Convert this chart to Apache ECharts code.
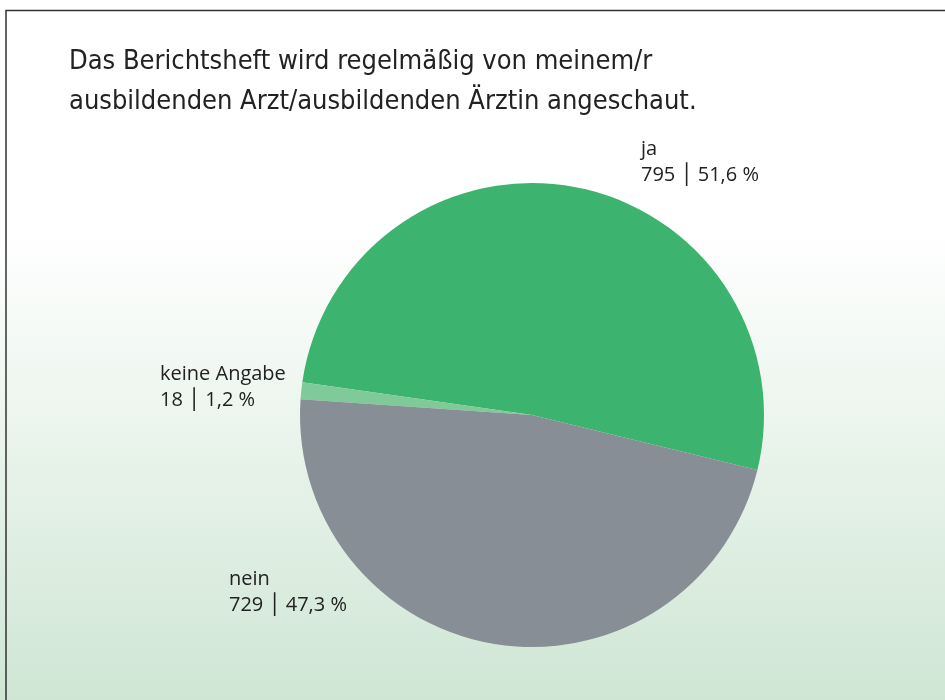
<!DOCTYPE html>
<html>
<head>
<meta charset="utf-8">
<script src="https://cdn.jsdelivr.net/npm/echarts@6/dist/echarts.min.js"></script>
<style>
  html, body { margin: 0; padding: 0; }
  #main { width: 945px; height: 700px; }
</style>
</head>
<body>
<div id="main"></div>
<script>
// Daten
var categories = ['ja', 'keine Angabe', 'nein'];
var counts = [795, 18, 729];
var percents = ['51,6', '1,2', '47,3'];
var colors = ['#3db370', '#80c998', '#878e95'];

// Positionen der Beschriftungen (links oben)
var labelPos = [[641, 136], [160, 361], [229, 566]];

var myChart = echarts.init(document.getElementById('main'));

var option = {
    backgroundColor: {
        type: 'linear', x: 0, y: 0, x2: 0, y2: 1,
        colorStops: [
            { offset: 0, color: '#ffffff' },
            { offset: 0.33, color: '#ffffff' },
            { offset: 1, color: '#cfe6d4' }
        ]
    },
    title: {
        text: 'Das Berichtsheft wird regelmäßig von meinem/r\nausbildenden Arzt/ausbildenden Ärztin angeschaut.',
        left: 64,
        top: 37,
        textStyle: {
            fontFamily: '"DejaVu Sans Condensed", "Liberation Sans Narrow", Roboto, sans-serif',
            fontWeight: 'normal',
            fontSize: 27,
            lineHeight: 40,
            color: '#222'
        }
    },
    graphic: [{
        type: 'polyline',
        shape: { points: [[6, 700], [6, 10.5], [945, 10.5]] },
        style: { stroke: '#333', lineWidth: 1.5, fill: null }
    }],
    series: [{
        name: 'Berichtsheft',
        type: 'pie',
        center: [532, 415],
        radius: [0, 232],
        startAngle: -13.7,
        clockwise: false,
        silent: true,
        data: categories.map(function (c, i) {
            return { name: c, value: counts[i], itemStyle: { color: colors[i] } };
        }),
        label: {
            show: true,
            position: 'outside',
            formatter: function (p) {
                var i = p.dataIndex;
                return p.name + '\n' + counts[i] + ' │ ' + percents[i] + ' %';
            },
            fontFamily: '"Open Sans", "DejaVu Sans", sans-serif',
            fontSize: 20,
            lineHeight: 26,
            color: '#222',
            align: 'left',
            verticalAlign: 'top'
        },
        labelLine: { show: false },
        labelLayout: function (params) {
            var p = labelPos[params.dataIndex];
            return { x: p[0], y: p[1], align: 'left', verticalAlign: 'top' };
        }
    }]
};

myChart.setOption(option);
window.addEventListener('resize', function () {
    myChart.resize();
});
</script>
</body>
</html>
